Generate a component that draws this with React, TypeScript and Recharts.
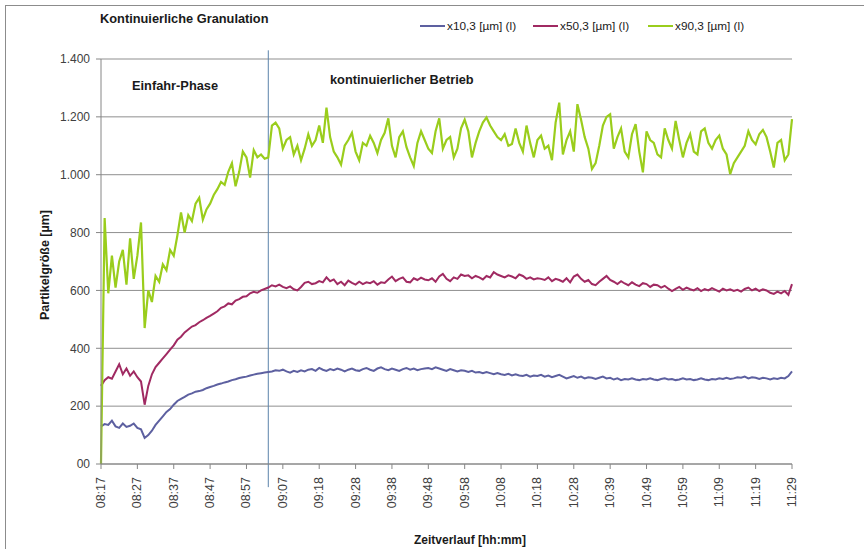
import { LineChart, Line, XAxis, YAxis, CartesianGrid, ReferenceLine } from 'recharts'

// time axis labels, one every 10 samples
const xTickLabels = ['08:17', '08:27', '08:37', '08:47', '08:57', '09:07', '09:18', '09:28', '09:38', '09:48',
  '09:58', '10:08', '10:18', '10:28', '10:39', '10:49', '10:59', '11:09', '11:19', '11:29']
const yTicks = [0, 200, 400, 600, 800, 1000, 1200, 1400]
const yTickLabels = ['00', '200', '400', '600', '800', '1.000', '1.200', '1.400']

// x10,3 [µm]
const x10 = [
  130, 138, 135, 150, 130, 125, 140, 128, 132, 140,
  125, 120, 90, 100, 115, 135, 150, 165, 180, 190,
  205, 218, 225, 232, 240, 244, 250, 252, 256, 262,
  266, 270, 275, 278, 282, 285, 290, 293, 297, 300,
  302, 306, 309, 312, 314, 316, 318, 320, 324, 322,
  326, 320, 316, 322, 318, 324, 320, 326, 328, 322,
  332, 326, 322, 328, 324, 330, 326, 320, 326, 330,
  324, 322, 328, 332, 326, 322, 330, 334, 328, 324,
  330, 326, 322, 328, 332, 326, 330, 324, 328, 330,
  332, 328, 334, 330, 326, 322, 328, 324, 320, 324,
  322, 318, 322, 316, 318, 314, 318, 314, 310, 314,
  310, 308, 312, 306, 310, 306, 304, 308, 302, 306,
  304, 308, 302, 306, 300, 304, 308, 302, 296, 300,
  304, 298, 302, 296, 300, 298, 294, 298, 302, 296,
  298, 292, 296, 290, 294, 292, 296, 292, 290, 294,
  292, 296, 292, 290, 294, 296, 292, 294, 290, 292,
  296, 292, 294, 290, 292, 296, 292, 290, 294, 292,
  296, 294, 298, 294, 296, 300, 298, 302, 296, 300,
  298, 294, 298, 296, 292, 296, 294, 298, 296, 304,
  320
]

// x50,3 [µm]
const x50 = [
  270, 290, 300, 295, 320, 345, 310, 330, 305, 320,
  300, 285, 205, 270, 310, 335, 350, 365, 380, 395,
  410, 430, 440, 455, 465, 475, 480, 490, 497, 505,
  512, 520, 528, 540, 545, 555, 552, 565, 570, 578,
  580, 590, 595, 592, 600, 605, 610, 618, 614, 620,
  612, 608, 614, 604, 600, 612, 626, 630, 622, 625,
  632, 628, 645, 632, 638, 622, 630, 618, 634, 626,
  620, 630, 622, 628, 625, 632, 620, 628, 626, 638,
  648, 632, 640, 645, 630, 628, 642, 636, 644, 638,
  635, 642, 630, 648, 657, 640, 632, 645, 640, 655,
  650, 652, 642, 650, 645, 638, 650, 645, 663, 655,
  650, 645, 652, 648, 642, 655, 650, 640, 645, 638,
  642, 640, 636, 645, 632, 640, 636, 630, 642, 628,
  648, 655, 640, 630, 636, 622, 618, 630, 640, 650,
  636, 630, 622, 632, 624, 618, 628, 620, 615, 625,
  622, 612, 620, 618, 610, 616, 606, 598, 605, 612,
  602, 610, 604, 600, 608, 598, 605, 600, 608, 602,
  596, 606, 600, 604, 598, 602, 596, 605, 610, 600,
  606, 598, 604, 600, 592, 588, 596, 590, 598, 585,
  622
]

// x90,3 [µm]
const x90 = [
  0, 850, 590, 720, 610, 700, 740, 620, 780, 640,
  720, 835, 470, 600, 560, 650, 630, 690, 670, 740,
  720, 790, 870, 800, 860, 840, 900, 920, 845, 880,
  900, 930, 950, 975, 965, 1010, 1040, 960, 1010, 1080,
  1060, 990, 1085, 1060, 1070, 1055, 1060, 1170, 1180, 1160,
  1090, 1120, 1130, 1070, 1100, 1050, 1090, 1140, 1100, 1120,
  1170, 1110, 1232, 1130, 1080, 1060, 1035, 1100, 1120, 1145,
  1080, 1050, 1110, 1100, 1135, 1110, 1075, 1120, 1145, 1195,
  1100, 1060, 1130, 1150, 1095, 1060, 1030, 1110, 1150, 1120,
  1090, 1075, 1150, 1195, 1090, 1120, 1130, 1060, 1090, 1160,
  1190, 1150, 1060, 1110, 1150, 1180, 1198, 1170, 1150, 1130,
  1120, 1140, 1100, 1106, 1160, 1110, 1080, 1170, 1110, 1060,
  1120, 1135, 1090, 1100, 1050, 1180, 1249, 1070, 1120, 1150,
  1080, 1244, 1190, 1130, 1090, 1020, 1040, 1100, 1170, 1200,
  1209, 1090, 1130, 1160, 1080, 1060, 1140, 1175, 1080, 1008,
  1150, 1120, 1110, 1070, 1060, 1160, 1120, 1090, 1186, 1120,
  1060, 1110, 1140, 1080, 1070, 1150, 1160, 1110, 1090, 1120,
  1135, 1090, 1070, 1002, 1040, 1060, 1080, 1100, 1150, 1120,
  1105, 1140, 1155, 1130, 1080, 1025, 1110, 1120, 1050, 1070,
  1192
]

const phaseChange = 46 // sample index of the end of the start-up phase

const data = x90.map((_, i) => ({ i, x10: x10[i], x50: x50[i], x90: x90[i] }))
const xTicks = xTickLabels.map((_, k) => k * 10)

const BLUE = '#5d60a0'
const PURPLE = '#a02a62'
const GREEN = '#9acd1c'
const FONT = '"Liberation Sans", Arial, sans-serif'

const XTick = (props: any) => {
  const { x, y, payload } = props
  return (
    <text x={x} y={y} transform={`rotate(-90 ${x} ${y})`} textAnchor="end" dominantBaseline="central"
      fontSize={12.5} fill="#404040" fontFamily={FONT}>
      {xTickLabels[Math.round(payload.value / 10)]}
    </text>
  )
}

const legendItems = [
  { label: 'x10,3 [µm] (l)', color: BLUE, left: 420 },
  { label: 'x50,3 [µm] (l)', color: PURPLE, left: 533 },
  { label: 'x90,3 [µm] (l)', color: GREEN, left: 648 },
]

export default function App() {
  return (
    <div style={{ position: 'fixed', left: 0, top: 0, width: 864, height: 549, overflow: 'hidden', background: '#fff', fontFamily: FONT }}>
      <div style={{ position: 'absolute', left: 5, top: 5, width: 1000, height: 800, border: '1px solid #8c8c8c' }} />
      <LineChart width={864} height={549} data={data} margin={{ top: 59, right: 72, bottom: 0, left: 0 }}>
        <CartesianGrid vertical={false} stroke="#8f8f8f" />
        <XAxis dataKey="i" type="number" domain={[0, 190]} ticks={xTicks} interval={0} height={85}
          tick={XTick} tickSize={5} tickMargin={8} stroke="#868686" />
        <YAxis domain={[0, 1400]} ticks={yTicks} width={101} tickSize={5} tickMargin={6} stroke="#868686"
          tickFormatter={(v: number) => yTickLabels[yTicks.indexOf(v)]}
          tick={{ fontSize: 12, fill: '#404040', fontFamily: FONT }} />
        <ReferenceLine segment={[{ x: phaseChange, y: 1430 }, { x: phaseChange, y: -80 }]} ifOverflow="visible"
          stroke="#5b82aa" strokeWidth={1} />
        <Line type="linear" dataKey="x10" stroke={BLUE} strokeWidth={2} dot={false} isAnimationActive={false} />
        <Line type="linear" dataKey="x50" stroke={PURPLE} strokeWidth={2} dot={false} isAnimationActive={false} />
        <Line type="linear" dataKey="x90" stroke={GREEN} strokeWidth={2.2} dot={false} isAnimationActive={false} />
      </LineChart>
      <div style={{ position: 'absolute', left: 100, top: 11, fontSize: 12.8, fontWeight: 'bold', color: '#1a1a1a' }}>
        Kontinuierliche Granulation
      </div>
      {legendItems.map((it) => (
        <div key={it.label} style={{ position: 'absolute', left: it.left, top: 19, display: 'flex', alignItems: 'center', fontSize: 11.8, color: '#1a1a1a' }}>
          <span style={{ display: 'inline-block', width: 25, height: 2, background: it.color, marginRight: 2 }} />
          {it.label}
        </div>
      ))}
      <div style={{ position: 'absolute', left: 132, top: 78, fontSize: 12.8, fontWeight: 'bold', color: '#1a1a1a' }}>
        Einfahr-Phase
      </div>
      <div style={{ position: 'absolute', left: 330, top: 72, fontSize: 12.8, fontWeight: 'bold', color: '#1a1a1a' }}>
        kontinuierlicher Betrieb
      </div>
      <div style={{ position: 'absolute', left: 45, top: 265, transform: 'translate(-50%, -50%) rotate(-90deg)', whiteSpace: 'nowrap', fontSize: 12.5, fontWeight: 'bold', color: '#1a1a1a' }}>
        Partikelgröße [µm]
      </div>
      <div style={{ position: 'absolute', left: 470, top: 533, transform: 'translateX(-50%)', whiteSpace: 'nowrap', fontSize: 12, fontWeight: 'bold', color: '#1a1a1a' }}>
        Zeitverlauf  [hh:mm]
      </div>
    </div>
  )
}
